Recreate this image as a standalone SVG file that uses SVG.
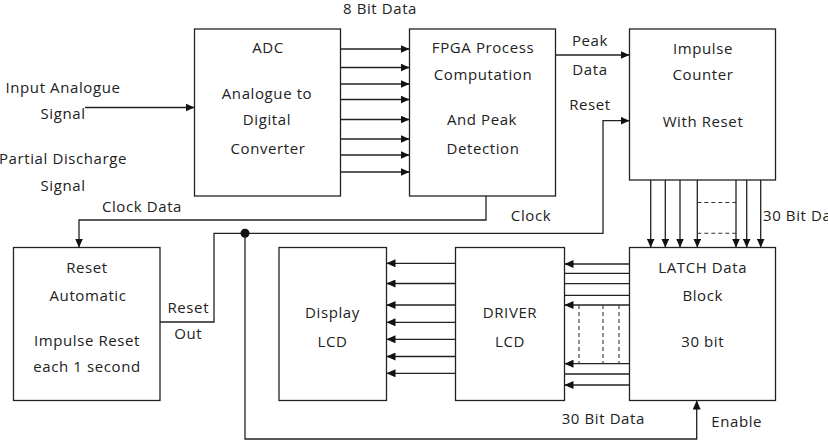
<svg xmlns="http://www.w3.org/2000/svg" width="828" height="442" viewBox="0 0 828 442">
<style>
.box{fill:#fff;stroke:#222;stroke-width:1.3}
.ln{fill:none;stroke:#222;stroke-width:1.3}
.ar{fill:none;stroke:#222;stroke-width:1.3;marker-end:url(#ah)}
.ds{fill:none;stroke:#333;stroke-width:1.1;stroke-dasharray:4 3}
text{font-family:"Open Sans","Liberation Sans",sans-serif;font-size:15px;fill:#222;text-anchor:middle;letter-spacing:0.6px}
</style>
<defs>
<marker id="ah" markerUnits="userSpaceOnUse" markerWidth="9" markerHeight="8" refX="9" refY="4" orient="auto">
<path d="M0,0 L9,4 L0,8 z" fill="#111"/>
</marker>
</defs>
<rect width="828" height="442" fill="#fff"/>
<g id="connectors">
<path class="ar" d="M85 107.5 H194.5"/>
<path class="ar" d="M340.5 49 H409.5"/>
<path class="ar" d="M340.5 67.5 H409.5"/>
<path class="ar" d="M340.5 84 H409.5"/>
<path class="ar" d="M340.5 99.5 H409.5"/>
<path class="ar" d="M340.5 119.5 H409.5"/>
<path class="ar" d="M340.5 139 H409.5"/>
<path class="ar" d="M340.5 155 H409.5"/>
<path class="ar" d="M340.5 172 H409.5"/>
<path class="ar" d="M555.5 55 H629.5"/>
<path class="ar" d="M486 196 V220 H79 V247.5"/>
<path class="ar" d="M160 322 H214 V233.3 H603 V120.7 H629.5"/>
<path class="ar" d="M245 233.3 V439 H696.7 V400.5"/>
<circle cx="245" cy="233.3" r="4.5" fill="#111"/>
<path class="ar" d="M650.7 180 V247.5"/>
<path class="ar" d="M665.3 180 V247.5"/>
<path class="ar" d="M680 180 V247.5"/>
<path class="ar" d="M697.3 180 V247.5"/>
<path class="ar" d="M736 180 V247.5"/>
<path class="ar" d="M746.7 180 V247.5"/>
<path class="ar" d="M760.7 180 V247.5"/>
<path class="ds" d="M697.3 202.5 H736 M697.3 233.3 H736"/>
<path class="ar" d="M629.5 264 H564.5"/>
<path class="ln" d="M629.5 273.3 H564.5"/>
<path class="ln" d="M629.5 283.7 H564.5"/>
<path class="ln" d="M629.5 295.3 H564.5"/>
<path class="ar" d="M629.5 305 H564.5"/>
<path class="ar" d="M629.5 363.7 H564.5"/>
<path class="ln" d="M629.5 374 H564.5"/>
<path class="ar" d="M629.5 385 H564.5"/>
<path class="ds" d="M579 305 V363.7 M603 305 V363.7 M619 305 V363.7"/>
<path class="ar" d="M455.5 263.3 H386.5"/>
<path class="ar" d="M455.5 283.5 H386.5"/>
<path class="ar" d="M455.5 305 H386.5"/>
<path class="ar" d="M455.5 322.3 H386.5"/>
<path class="ar" d="M455.5 339.3 H386.5"/>
<path class="ar" d="M455.5 356.5 H386.5"/>
<path class="ar" d="M455.5 373.3 H386.5"/>
</g>
<g id="labels">
<text x="380" y="14">8 Bit Data</text>
<text x="63" y="92.5">Input Analogue</text>
<text x="63" y="118.5">Signal</text>
<text x="63" y="164">Partial Discharge</text>
<text x="63" y="190.5">Signal</text>
<text x="142" y="211.5">Clock Data</text>
<text x="590" y="45.5">Peak</text>
<text x="590" y="75">Data</text>
<text x="590" y="110">Reset</text>
<text x="531" y="220.5">Clock</text>
<text x="763" y="220.5" style="text-anchor:start">30 Bit Data</text>
<text x="188.3" y="312.5">Reset</text>
<text x="188.3" y="338.5">Out</text>
<text x="603.3" y="424">30 Bit Data</text>
<text x="736.7" y="426.5">Enable</text>
</g>
<g id="adc">
<rect class="box" x="194.5" y="29" width="146" height="167"/>
<text x="268" y="53">ADC</text>
<text x="267" y="98.5">Analogue to</text>
<text x="267" y="125">Digital</text>
<text x="268" y="154">Converter</text>
</g>
<g id="fpga">
<rect class="box" x="409.5" y="29" width="146" height="167"/>
<text x="483" y="53.3">FPGA Process</text>
<text x="483" y="80">Computation</text>
<text x="482" y="125">And Peak</text>
<text x="483" y="154">Detection</text>
</g>
<g id="counter">
<rect class="box" x="629.5" y="29" width="146" height="151"/>
<text x="703" y="54">Impulse</text>
<text x="703" y="80">Counter</text>
<text x="703" y="126.5">With Reset</text>
</g>
<g id="reset-auto">
<rect class="box" x="13.5" y="247.5" width="146.5" height="153"/>
<text x="87" y="272.5">Reset</text>
<text x="88" y="301">Automatic</text>
<text x="87" y="345.5">Impulse Reset</text>
<text x="87" y="372">each 1 second</text>
</g>
<g id="display">
<rect class="box" x="279" y="247.5" width="107.5" height="153"/>
<text x="332.5" y="318.3">Display</text>
<text x="332.5" y="346.7">LCD</text>
</g>
<g id="driver">
<rect class="box" x="455.5" y="247.5" width="109" height="153"/>
<text x="510" y="317.7">DRIVER</text>
<text x="510" y="346.7">LCD</text>
</g>
<g id="latch">
<rect class="box" x="629.5" y="247.5" width="146" height="153"/>
<text x="702.7" y="272.7">LATCH Data</text>
<text x="702.7" y="300.7">Block</text>
<text x="702.7" y="346.7">30 bit</text>
</g>
</svg>
